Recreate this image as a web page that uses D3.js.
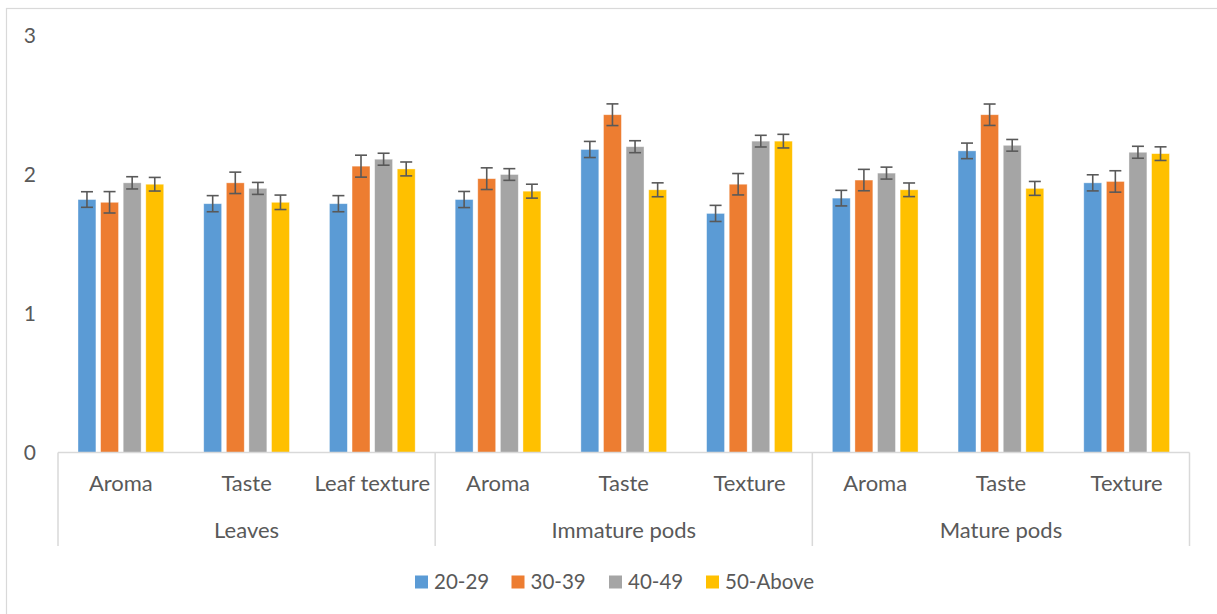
<!DOCTYPE html>
<html>
<head>
<meta charset="utf-8">
<script src="https://cdn.jsdelivr.net/npm/d3@7"></script>
<style>
  body { margin: 0; background: #fff; }
  text { font-family: Lato, 'Open Sans', sans-serif; fill: #595959; }
</style>
</head>
<body>
<div id="chart"></div>
<script>
// data
const groups = ['Leaves', 'Immature pods', 'Mature pods']
const attributes = ['Aroma', 'Taste', 'Leaf texture', 'Aroma', 'Taste', 'Texture', 'Aroma', 'Taste', 'Texture']
const series = ['20-29', '30-39', '40-49', '50-Above']
const colors = ['#5B9BD5', '#ED7D31', '#A5A5A5', '#FFC000']
const yTicks = [0, 1, 2, 3]

const age2029 = [1.82, 1.79, 1.79, 1.82, 2.18, 1.72, 1.83, 2.17, 1.94]
const age3039 = [1.80, 1.94, 2.06, 1.97, 2.43, 1.93, 1.96, 2.43, 1.95]
const age4049 = [1.94, 1.90, 2.11, 2.00, 2.20, 2.24, 2.01, 2.21, 2.16]
const age50 = [1.93, 1.80, 2.04, 1.88, 1.89, 2.24, 1.89, 1.90, 2.15]

const err2029 = [0.056, 0.058, 0.058, 0.058, 0.058, 0.058, 0.056, 0.056, 0.058]
const err3039 = [0.077, 0.077, 0.079, 0.078, 0.078, 0.077, 0.077, 0.077, 0.077]
const err4049 = [0.044, 0.043, 0.043, 0.042, 0.043, 0.042, 0.043, 0.042, 0.043]
const err50 = [0.049, 0.052, 0.050, 0.050, 0.050, 0.049, 0.049, 0.050, 0.049]

const values = [age2029, age3039, age4049, age50]
const errors = [err2029, err3039, err4049, err50]

const width = 1217
const height = 614
const plot = { left: 58, right: 1189.5, top: 35.5, bottom: 452.5 }

const svg = d3
  .select('#chart')
  .append('svg')
  .attr('width', width)
  .attr('height', height)

// outer chart border
svg
  .append('rect')
  .attr('x', 6.5)
  .attr('y', 8.5)
  .attr('width', 1230)
  .attr('height', 640)
  .attr('fill', 'none')
  .attr('stroke', '#D9D9D9')
  .attr('stroke-width', 1.2)

const x0 = d3
  .scaleBand()
  .domain(d3.range(attributes.length))
  .range([plot.left, plot.right])
  .paddingInner(0)
  .paddingOuter(0)

const outerGap = 20
const x1 = d3
  .scaleBand()
  .domain(series)
  .range([outerGap, x0.bandwidth() - outerGap])
  .paddingInner(0.207)
  .paddingOuter(0)

const y = d3.scaleLinear().domain([0, 3]).range([plot.bottom, plot.top])

// y tick labels (no axis line in the original)
svg
  .selectAll('.ytick')
  .data(yTicks)
  .enter()
  .append('text')
  .attr('class', 'ytick')
  .attr('x', 36)
  .attr('y', d => y(d))
  .attr('dy', '0.35em')
  .attr('text-anchor', 'end')
  .style('font-size', '21px')
  .text(d => d)

// bars
const rows = []
series.forEach((s, si) => {
  values[si].forEach((v, ci) => {
    rows.push({ s: s, si: si, ci: ci, v: v, e: errors[si][ci] })
  })
})

svg
  .selectAll('.bar')
  .data(rows)
  .enter()
  .append('rect')
  .attr('class', 'bar')
  .attr('x', d => x0(d.ci) + x1(d.s))
  .attr('y', d => y(d.v))
  .attr('width', x1.bandwidth())
  .attr('height', d => y(0) - y(d.v))
  .attr('fill', d => colors[d.si])
  .attr('stroke', '#fff')
  .attr('stroke-opacity', 0.5)
  .attr('stroke-width', 0.75)

// error bars
const capHalf = 6
const errG = svg
  .selectAll('.err')
  .data(rows)
  .enter()
  .append('g')
  .attr('class', 'err')
  .attr('stroke', '#595959')
  .attr('stroke-width', 1.6)

errG
  .append('line')
  .attr('x1', d => x0(d.ci) + x1(d.s) + x1.bandwidth() / 2)
  .attr('x2', d => x0(d.ci) + x1(d.s) + x1.bandwidth() / 2)
  .attr('y1', d => y(d.v + d.e))
  .attr('y2', d => y(d.v - d.e))
errG
  .append('line')
  .attr('x1', d => x0(d.ci) + x1(d.s) + x1.bandwidth() / 2 - capHalf)
  .attr('x2', d => x0(d.ci) + x1(d.s) + x1.bandwidth() / 2 + capHalf)
  .attr('y1', d => y(d.v + d.e))
  .attr('y2', d => y(d.v + d.e))
errG
  .append('line')
  .attr('x1', d => x0(d.ci) + x1(d.s) + x1.bandwidth() / 2 - capHalf)
  .attr('x2', d => x0(d.ci) + x1(d.s) + x1.bandwidth() / 2 + capHalf)
  .attr('y1', d => y(d.v - d.e))
  .attr('y2', d => y(d.v - d.e))

// category axis: baseline + group separators
const axisColor = '#D9D9D9'
svg
  .append('line')
  .attr('x1', plot.left)
  .attr('x2', plot.right)
  .attr('y1', y(0))
  .attr('y2', y(0))
  .attr('stroke', axisColor)
  .attr('stroke-width', 1.5)

const perGroup = attributes.length / groups.length
const sepIdx = d3.range(groups.length + 1)
svg
  .selectAll('.sep')
  .data(sepIdx)
  .enter()
  .append('line')
  .attr('class', 'sep')
  .attr('x1', d => plot.left + d * perGroup * x0.step())
  .attr('x2', d => plot.left + d * perGroup * x0.step())
  .attr('y1', y(0))
  .attr('y2', 546)
  .attr('stroke', axisColor)
  .attr('stroke-width', 1.5)

svg
  .selectAll('.cat')
  .data(attributes)
  .enter()
  .append('text')
  .attr('class', 'cat')
  .attr('x', (d, i) => x0(i) + x0.bandwidth() / 2)
  .attr('y', 491)
  .attr('text-anchor', 'middle')
  .style('font-size', '22px')
  .text(d => d)

svg
  .selectAll('.grp')
  .data(groups)
  .enter()
  .append('text')
  .attr('class', 'grp')
  .attr('x', (d, i) => plot.left + (i + 0.5) * perGroup * x0.step())
  .attr('y', 538)
  .attr('text-anchor', 'middle')
  .style('font-size', '22px')
  .text(d => d)

// legend
const legendX = [415, 511.5, 609, 706]
const legend = svg
  .selectAll('.legend')
  .data(series)
  .enter()
  .append('g')
  .attr('class', 'legend')
  .attr('transform', (d, i) => `translate(${legendX[i]},575.5)`)

legend
  .append('rect')
  .attr('width', 13)
  .attr('height', 13)
  .attr('fill', (d, i) => colors[i])

legend
  .append('text')
  .attr('x', 19)
  .attr('y', 6.5)
  .attr('dy', '0.35em')
  .style('font-size', '20.5px')
  .text(d => d)
</script>
</body>
</html>
